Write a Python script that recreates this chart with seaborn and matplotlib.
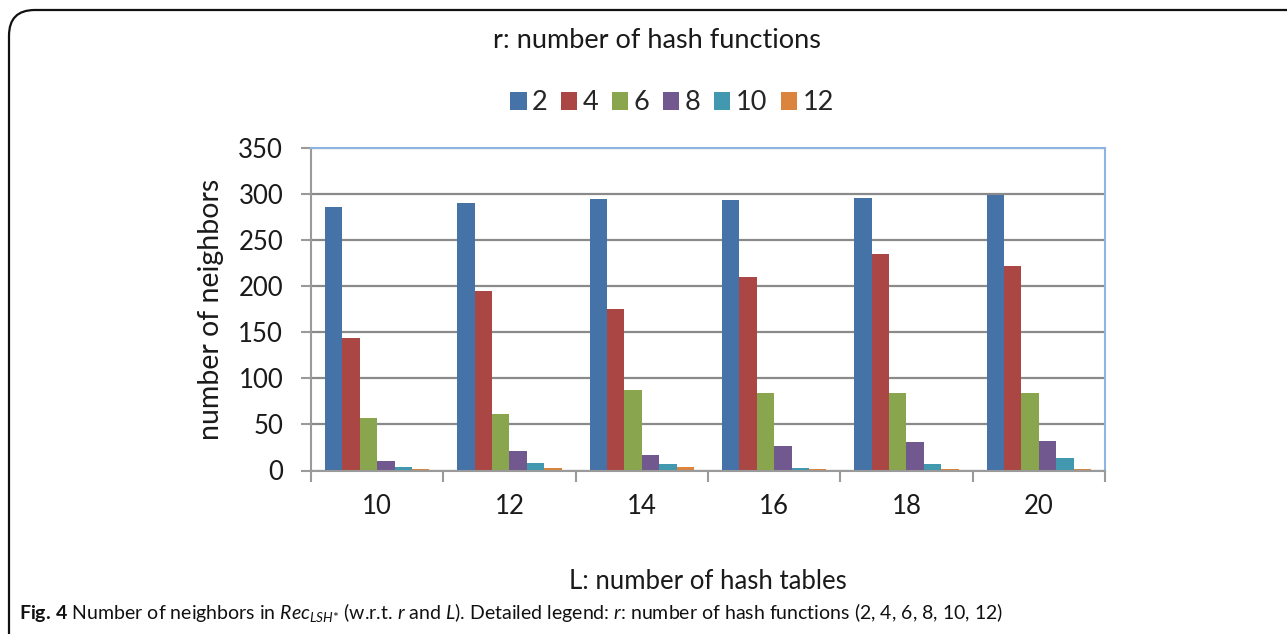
import matplotlib
matplotlib.use("Agg")
import matplotlib.pyplot as plt
from matplotlib.patches import Patch, FancyBboxPatch
from matplotlib.ticker import FixedLocator
import seaborn as sns
import pandas as pd

# ---- data ----
L_values = ["10", "12", "14", "16", "18", "20"]
r_values = ["2", "4", "6", "8", "10", "12"]
r2 = [285, 290, 294, 293, 295, 299]
r4 = [144, 194, 175, 210, 235, 222]
r6 = [57, 61, 87, 84, 84, 84]
r8 = [10, 21, 17, 27, 31, 32]
r10 = [4, 8, 7, 3, 7, 14]
r12 = [2, 2.5, 4, 1.5, 2, 2]
series = [r2, r4, r6, r8, r10, r12]
colors = ["#4572A7", "#AA4643", "#89A54E", "#71588F", "#4198AF", "#DB843D"]

rows = []
for r, vals in zip(r_values, series):
    for L, v in zip(L_values, vals):
        rows.append({"L": L, "r": r, "n": v})
df = pd.DataFrame(rows)

sns.set_style("white")
font = ["Lato", "DejaVu Sans"]
plt.rcParams["font.family"] = font
plt.rcParams["mathtext.fontset"] = "custom"
plt.rcParams["mathtext.rm"] = "Lato"
plt.rcParams["mathtext.it"] = "Lato:italic"
plt.rcParams["mathtext.bf"] = "Lato:bold"

W, H = 1287, 634
fig = plt.figure(figsize=(W / 100, H / 100), dpi=100)
ax = fig.add_axes([311 / W, 1 - 470.5 / H, 794 / W, 323 / H])

sns.barplot(data=df, x="L", y="n", hue="r", order=L_values, hue_order=r_values,
            palette=colors, width=0.79, saturation=1, ax=ax, legend=False,
            linewidth=0, errorbar=None)

ax.set_ylim(0, 350)
ax.set_xlim(-0.5, 5.5)
ax.set_yticks(range(0, 351, 50))
ax.yaxis.grid(True, color="#8a8a8a", linewidth=1.6)
ax.set_axisbelow(True)
for s in ["left", "bottom"]:
    ax.spines[s].set_color("#9a9a9a")
    ax.spines[s].set_linewidth(1.5)
for s in ["top", "right"]:
    ax.spines[s].set_color("#8EB4E3")
    ax.spines[s].set_linewidth(1.5)
    ax.spines[s].set_visible(True)

ax.tick_params(axis="y", length=7, width=1.5, color="#9a9a9a", pad=13,
               labelsize=18.5, direction="out", left=True)
ax.tick_params(axis="x", which="major", length=0, pad=17, labelsize=18.5)
ax.xaxis.set_minor_locator(FixedLocator([i - 0.5 for i in range(7)]))
ax.tick_params(axis="x", which="minor", length=8, width=1.5, color="#9a9a9a",
               direction="out", bottom=True)

ax.set_xlabel("L: number of hash tables", fontsize=18.5, labelpad=36, color="#1a1a1a")
ax.set_ylabel("number of neighbors", fontsize=20.5, labelpad=10, color="#1a1a1a")
for t in ax.get_xticklabels() + ax.get_yticklabels():
    t.set_color("#1a1a1a")

fig.text(657 / W, 1 - 40 / H, "r: number of hash functions", ha="center",
         va="center", fontsize=19.5, color="#1a1a1a")

handles = [Patch(facecolor=c, edgecolor="none", label=r) for c, r in zip(colors, r_values)]
fig.legend(handles=handles, loc="center", bbox_to_anchor=(672 / W, 1 - 103 / H),
           ncol=6, frameon=False, fontsize=19.5, handlelength=0.6, handleheight=0.6,
           handletextpad=0.2, columnspacing=0.5)

# outer rounded box
box = FancyBboxPatch((9 / W, -0.05), 1.2, 1.05 - 10 / H,
                     boxstyle="round,pad=0,rounding_size=0.02",
                     transform=fig.transFigure, fill=False, edgecolor="#111111",
                     linewidth=1.6, clip_on=False, mutation_aspect=W / H)
fig.patches.append(box)

caption = (r"$\mathbf{Fig.}$$\,$$\mathbf{4}$ Number of neighbors in $\mathit{Rec}_{\mathit{LSH}{*}}$ "
           r"(w.r.t. $\mathit{r}$ and $\mathit{L}$). Detailed legend: $\mathit{r}$: "
           r"number of hash functions (2, 4, 6, 8, 10, 12)")
fig.text(19 / W, 1 - 612 / H, caption, ha="left", va="center", fontsize=14,
         color="#111111")

fig.savefig("out.png", dpi=100)
